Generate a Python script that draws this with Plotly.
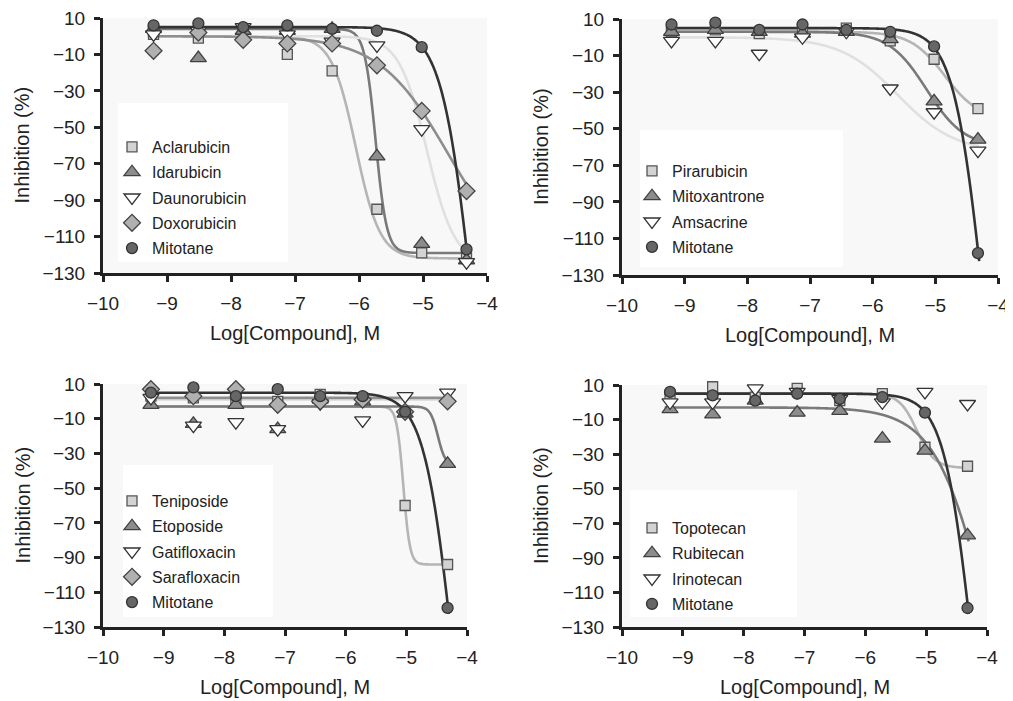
import numpy as np
import plotly.graph_objects as go

# target picture size and page body margin of the html page
W, H = 1013, 701
OFF = 8
FW, FH = W - OFF, H - OFF

# ---------------- data ----------------
LOG_DOSE = [-9.21, -8.51, -7.81, -7.12, -6.42, -5.72, -5.02, -4.32]
X_TICKS = [-10, -9, -8, -7, -6, -5, -4]
Y_TICKS = [10, -10, -30, -50, -70, -90, -110, -130]

# panel A
ACLARUBICIN = [1, -1, 4, -10, -19, -95, -119, -122]
IDARUBICIN = [4, -12, 3, 3, 4, -66, -114, -123]
DAUNORUBICIN = [1, 3, 5, 1, -3, -5, -51, -124]
DOXORUBICIN = [-8, 2, -2, -4, -4, -16, -41, -85]
MITOTANE_A = [6, 7, 5, 6, 4, 3, -6, -117]
# panel B
PIRARUBICIN = [3, 4, 2, 2, 5, -2, -12, -39]
MITOXANTRONE = [3, 4, 3, 2, 3, -1, -35, -56]
AMSACRINE = [-2, -2, -9, 0, 3, -28, -41, -62]
MITOTANE_B = [7, 8, 4, 7, 4, 3, -5, -118]
# panel C
TENIPOSIDE = [3, 2, 1, 0, 4, 2, -60, -94]
ETOPOSIDE = [-2, -13, -2, -16, 1, 0, -7, -36]
GATIFLOXACIN = [2, -14, -12, -16, -1, -11, 3, 5]
SARAFLOXACIN = [7, 3, 7, -2, 0, 1, -6, 0]
MITOTANE_C = [5, 8, 3, 7, 3, 3, -6, -119]
# panel D
TOPOTECAN = [4, 9, 3, 8, 1, 5, -26, -37]
RUBITECAN = [-4, -7, 1, -6, -5, -21, -28, -77]
IRINOTECAN = [0, 0, 8, 6, 2, 0, 6, -1]
MITOTANE_D = [6, 4, 1, 5, 2, 3, -6, -119]

# fitted 4-parameter logistic curves: [top, bottom, logIC50, hill]
ACLARUBICIN_FIT = [0, -122, -6.05, 2.3]
IDARUBICIN_FIT = [4, -119, -5.74, 5.0]
DAUNORUBICIN_FIT = [0, -125, -4.94, 2.0]
DOXORUBICIN_FIT = [0, -130, -4.6, 0.8]
MITOTANE_FIT = [5, -300, -4.22, 1.8]
PIRARUBICIN_FIT = [3, -45, -4.85, 1.6]
MITOXANTRONE_FIT = [3, -60, -5.14, 1.45]
AMSACRINE_FIT = [0, -63, -5.6, 0.95]
TENIPOSIDE_FIT = [-3, -94, -5.05, 8.0]
ETOPOSIDE_FIT = [-3, -37, -4.48, 7.0]
GATIFLOXACIN_FIT = [1, 1, -5.0, 1.0]
SARAFLOXACIN_FIT = [2, 2, -5.0, 1.0]
TOPOTECAN_FIT = [5, -38, -5.15, 3.0]
RUBITECAN_FIT = [-3, -250, -3.96, 1.0]

# ---------------- styles ----------------
STYLES = {
    "square": dict(symbol="square", size=10, fill="#d3d3d3", edge="#555555", curve="#b5b5b5"),
    "up": dict(symbol="triangle-up", size=14, fill="#8c8c8c", edge="#404040", curve="#7a7a7a"),
    "down": dict(symbol="triangle-down", size=14, fill="#ffffff", edge="#333333", curve="#e0e0e0"),
    "diamond": dict(symbol="diamond", size=13, fill="#b0b0b0", edge="#444444", curve="#8e8e8e"),
    "circle": dict(symbol="circle", size=11, fill="#666666", edge="#333333", curve="#333333"),
}

PANELS = [
    dict(names=["Aclarubicin", "Idarubicin", "Daunorubicin", "Doxorubicin", "Mitotane"],
         values=[ACLARUBICIN, IDARUBICIN, DAUNORUBICIN, DOXORUBICIN, MITOTANE_A],
         fits=[ACLARUBICIN_FIT, IDARUBICIN_FIT, DAUNORUBICIN_FIT, DOXORUBICIN_FIT, MITOTANE_FIT],
         kinds=["square", "up", "down", "diamond", "circle"],
         box=(103, 487, 18, 273), legbox=(118, 288, 103, 262)),
    dict(names=["Pirarubicin", "Mitoxantrone", "Amsacrine", "Mitotane"],
         values=[PIRARUBICIN, MITOXANTRONE, AMSACRINE, MITOTANE_B],
         fits=[PIRARUBICIN_FIT, MITOXANTRONE_FIT, AMSACRINE_FIT, MITOTANE_FIT],
         kinds=["square", "up", "down", "circle"],
         box=(622, 998, 19, 275), legbox=(640, 843, 130, 267)),
    dict(names=["Teniposide", "Etoposide", "Gatifloxacin", "Sarafloxacin", "Mitotane"],
         values=[TENIPOSIDE, ETOPOSIDE, GATIFLOXACIN, SARAFLOXACIN, MITOTANE_C],
         fits=[TENIPOSIDE_FIT, ETOPOSIDE_FIT, GATIFLOXACIN_FIT, SARAFLOXACIN_FIT, MITOTANE_FIT],
         kinds=["square", "up", "down", "diamond", "circle"],
         box=(103, 467, 384, 627), legbox=(123, 273, 465, 617)),
    dict(names=["Topotecan", "Rubitecan", "Irinotecan", "Mitotane"],
         values=[TOPOTECAN, RUBITECAN, IRINOTECAN, MITOTANE_D],
         fits=[TOPOTECAN_FIT, RUBITECAN_FIT, None, MITOTANE_FIT],
         kinds=["square", "up", "down", "circle"],
         box=(622, 987, 385, 627), legbox=(630, 797, 490, 617)),
]

LEGEND_FIRST_ITEM = [(132, 147), (652, 171), (132, 501), (652, 528)]


def px(x):
    return (x - OFF) / FW


def py(y):
    return 1 - (y - OFF) / FH


def four_pl(x, p):
    top, bottom, c, h = p
    return bottom + (top - bottom) / (1 + 10 ** ((x - c) * h))


xs_curve = np.linspace(-9.3, -4.3, 400)
fig = go.Figure()
layout = dict(width=FW, height=FH, margin=dict(l=0, r=0, t=0, b=0, autoexpand=False),
              paper_bgcolor="white", plot_bgcolor="#f8f8f8",
              font=dict(family="Arial, Liberation Sans, sans-serif", color="#222222"),
              shapes=[], annotations=[])

AX_COMMON = dict(showline=True, linewidth=3, linecolor="#222222", ticks="outside",
                 ticklen=6, tickwidth=3, tickcolor="#222222", showgrid=False, zeroline=False,
                 tickfont=dict(size=19, color="#222222"), ticklabelstandoff=5,
                 automargin=False, ticklabeloverflow="allow")

for i, pnl in enumerate(PANELS):
    k = i + 1
    xa = "x" if k == 1 else f"x{k}"
    ya = "y" if k == 1 else f"y{k}"
    leg = "legend" if k == 1 else f"legend{k}"
    x0, x1, y0, y1 = pnl["box"]
    layout["xaxis" if k == 1 else f"xaxis{k}"] = dict(
        AX_COMMON, domain=[px(x0), min(px(x1), 1.0)], range=[-10, -4], tickvals=X_TICKS,
        anchor=ya)
    layout["yaxis" if k == 1 else f"yaxis{k}"] = dict(
        AX_COMMON, domain=[py(y1), py(y0)], range=[-130, 10], tickvals=Y_TICKS,
        anchor=xa)
    # legend white background
    lx0, lx1, ly0, ly1 = pnl["legbox"]
    layout["shapes"].append(dict(type="rect", xref="paper", yref="paper",
                                 x0=px(lx0), x1=px(lx1), y0=py(ly1), y1=py(ly0),
                                 fillcolor="white", line=dict(width=0), layer="below"))
    # axis titles
    layout["annotations"].append(dict(text="Inhibition (%)", textangle=-90, showarrow=False,
                                      xref="paper", yref="paper", x=px(x0 - 81), y=py((y0 + y1) / 2),
                                      xanchor="center", yanchor="middle",
                                      font=dict(size=20, color="#222222")))
    layout["annotations"].append(dict(text="Log[Compound], M", showarrow=False,
                                      xref="paper", yref="paper", x=px((x0 + x1) / 2), y=py(y1 + 60),
                                      xanchor="center", yanchor="middle",
                                      font=dict(size=20, color="#222222")))
    lfx, lfy = LEGEND_FIRST_ITEM[i]
    layout[leg] = dict(x=px(lfx - 20), y=py(lfy - 17), xanchor="left", yanchor="top",
                       bgcolor="rgba(0,0,0,0)", font=dict(size=16, color="#222222"),
                       tracegroupgap=1.5, itemwidth=30)
    # curves
    for name, fit, kind in zip(pnl["names"], pnl["fits"], pnl["kinds"]):
        if fit is None:
            continue
        st = STYLES[kind]
        fig.add_trace(go.Scatter(x=xs_curve, y=four_pl(xs_curve, fit), mode="lines",
                                 line=dict(color=st["curve"], width=2.6, shape="spline"),
                                 xaxis=xa, yaxis=ya, showlegend=False, hoverinfo="skip",
                                 legend=leg, cliponaxis=False))
    # markers
    for name, vals, kind in zip(pnl["names"], pnl["values"], pnl["kinds"]):
        st = STYLES[kind]
        fig.add_trace(go.Scatter(x=LOG_DOSE, y=vals, mode="markers", name=name,
                                 marker=dict(symbol=st["symbol"], size=st["size"], color=st["fill"],
                                             line=dict(color=st["edge"], width=1.3)),
                                 xaxis=xa, yaxis=ya, legend=leg, legendgroup=f"{k}-{name}",
                                 cliponaxis=False))

fig.update_layout(**layout)
fig.write_html("out.html")
